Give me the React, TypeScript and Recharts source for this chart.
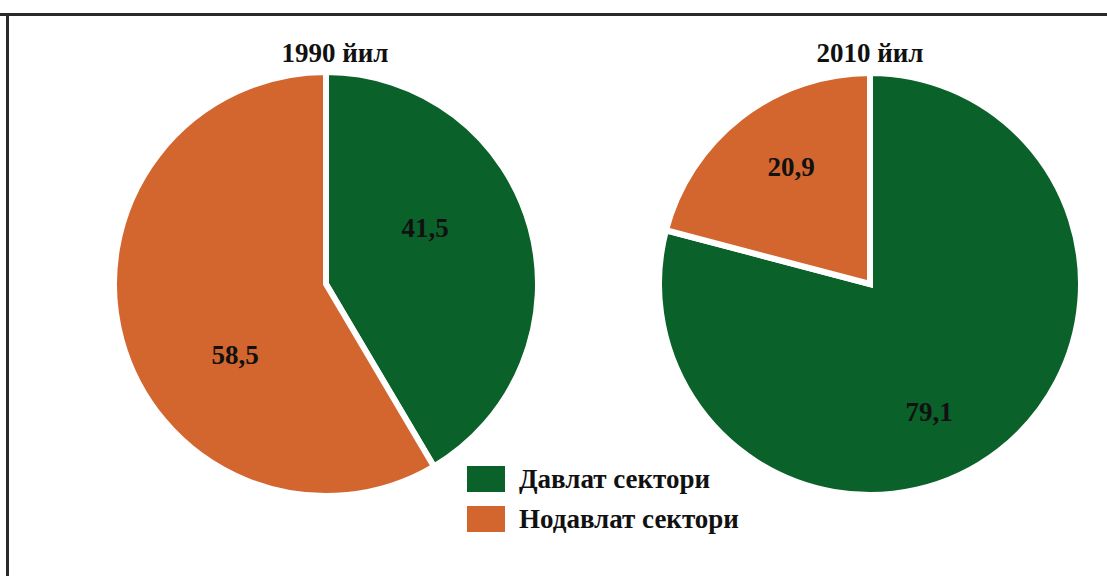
import { PieChart, Pie, Legend } from 'recharts';

const CATEGORIES = ['Давлат сектори', 'Нодавлат сектори'];
const VALUES_1990 = [41.5, 58.5];
const VALUES_2010 = [79.1, 20.9];
const YEARS = ['1990 йил', '2010 йил'];

const COLORS: Record<string, string> = {
  'Давлат сектори': '#0a6129',
  'Нодавлат сектори': '#d3662f',
};

const FONT = '"Liberation Serif", "DejaVu Serif", serif';

// label offsets from the pie centre, per slice (matches the source layout)
const LABEL_OFFSETS = [
  [{ dx: 99, dy: -56 }, { dx: -91, dy: 71 }],
  [{ dx: 59, dy: 128 }, { dx: -79, dy: -117 }],
];

const data1990 = CATEGORIES.map((name, i) => ({ name, value: VALUES_1990[i], fill: COLORS[name] }));
const data2010 = CATEGORIES.map((name, i) => ({ name, value: VALUES_2010[i], fill: COLORS[name] }));

const fmt = (v: number) => String(v).replace('.', ',');

function makeLabel(pieIdx: number) {
  return (props: any) => {
    const off = LABEL_OFFSETS[pieIdx][props.index];
    return (
      <text
        x={props.cx + off.dx}
        y={props.cy + off.dy}
        textAnchor="middle"
        dominantBaseline="central"
        fill="#111"
        fontFamily={FONT}
        fontWeight="bold"
        fontSize={27}
      >
        {fmt(props.value)}
      </text>
    );
  };
}

function LegendBox() {
  return (
    <div style={{ fontFamily: FONT, fontSize: 27, color: '#111', fontWeight: 'bold' }}>
      {CATEGORIES.map((c) => (
        <div key={c} style={{ display: 'flex', alignItems: 'center', height: 40 }}>
          <span style={{ display: 'inline-block', width: 38, height: 26, background: COLORS[c], marginRight: 14 }} />
          <span>{c}</span>
        </div>
      ))}
    </div>
  );
}

export default function App() {
  return (
    <div style={{ position: 'absolute', left: 0, top: 0, width: 1107, height: 576, background: '#fff', overflow: 'hidden' }}>
      {/* frame: top + left rules */}
      <div style={{ position: 'absolute', left: 0, top: 13, width: 1107, height: 3, background: '#2a2a2a' }} />
      <div style={{ position: 'absolute', left: 6, top: 13, width: 3, height: 563, background: '#2a2a2a' }} />

      {YEARS.map((y, i) => (
        <div
          key={y}
          style={{
            position: 'absolute',
            top: 36,
            left: i === 0 ? 235 : 770,
            width: 200,
            textAlign: 'center',
            fontFamily: FONT,
            fontWeight: 'bold',
            fontSize: 27,
            lineHeight: '34px',
            color: '#111',
          }}
        >
          {y}
        </div>
      ))}

      <div style={{ position: 'absolute', left: 0, top: 0 }}>
        <PieChart width={1107} height={576} margin={{ top: 0, right: 0, bottom: 0, left: 0 }}>
          <Pie
            data={data1990}
            dataKey="value"
            nameKey="name"
            cx={326}
            cy={284}
            outerRadius={212}
            startAngle={90}
            endAngle={-270}
            stroke="#fff"
            strokeWidth={6}
            label={makeLabel(0)}
            labelLine={false}
            isAnimationActive={false}
          />
          <Pie
            data={data2010}
            dataKey="value"
            nameKey="name"
            cx={870}
            cy={284}
            outerRadius={211}
            startAngle={90}
            endAngle={-270}
            stroke="#fff"
            strokeWidth={6}
            label={makeLabel(1)}
            labelLine={false}
            isAnimationActive={false}
          />
          <Legend
            layout="vertical"
            content={() => <LegendBox />}
            wrapperStyle={{ left: 467, top: 459, width: 300 }}
          />
        </PieChart>
      </div>
    </div>
  );
}
